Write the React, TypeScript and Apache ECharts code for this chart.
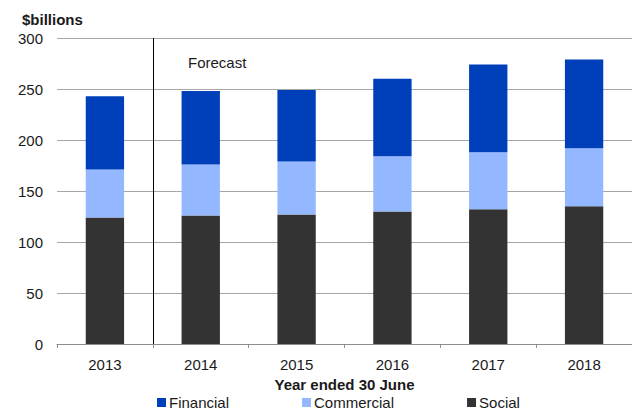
import React, { useEffect, useRef } from "react";
import * as echarts from "echarts";

const years = ["2013", "2014", "2015", "2016", "2017", "2018"];
const social = [124, 126, 127, 130, 132, 135];
const commercial = [47, 50, 52, 54, 56, 57];
const financial = [72, 72, 70, 76, 86, 87];
const yTicks = { min: 0, max: 300, interval: 50 };

const FONT = "'Liberation Sans', Arial, sans-serif";

export default function App() {
  const ref = useRef<HTMLDivElement>(null);
  useEffect(() => {
    document.body.style.margin = "0";
    const chart = echarts.init(ref.current!, null, { renderer: "svg" });
    chart.setOption({
      animation: false,
      textStyle: { fontFamily: FONT },
      grid: { left: 57, top: 38, width: 578, height: 306, containLabel: false },
      xAxis: {
        type: "category",
        data: years,
        boundaryGap: true,
        axisLine: { show: true, lineStyle: { color: "#8c8c8c", width: 1 } },
        axisTick: { show: true, length: 4, lineStyle: { color: "#8c8c8c" } },
        axisLabel: { color: "#1a1a1a", fontSize: 15, margin: 13, fontFamily: FONT },
        splitLine: { show: false },
        name: "Year ended 30 June",
        nameLocation: "middle",
        nameGap: 33,
        nameTextStyle: { fontWeight: "bold", fontSize: 15, color: "#1a1a1a", fontFamily: FONT },
      },
      yAxis: {
        type: "value",
        min: yTicks.min,
        max: yTicks.max,
        interval: yTicks.interval,
        axisLine: { show: false },
        axisTick: { show: false },
        axisLabel: { color: "#1a1a1a", fontSize: 15, margin: 14, fontFamily: FONT },
        splitLine: { lineStyle: { color: "#a6a6a6", width: 1 } },
      },
      legend: {
        data: ["Financial", "Commercial", "Social"],
        left: 157,
        top: 395,
        padding: 0,
        itemWidth: 9,
        itemHeight: 9,
        itemGap: 73,
        icon: "rect",
        textStyle: { fontSize: 15, color: "#1a1a1a", fontFamily: FONT, padding: [0, 0, 0, -2] },
      },
      series: [
        {
          name: "Social",
          type: "bar",
          stack: "total",
          data: social,
          barWidth: "40%",
          itemStyle: { color: "#333333" },
        },
        {
          name: "Commercial",
          type: "bar",
          stack: "total",
          data: commercial,
          itemStyle: { color: "#94b8ff" },
        },
        {
          name: "Financial",
          type: "bar",
          stack: "total",
          data: financial,
          itemStyle: { color: "#003fba" },
        },
      ],
    });
    // Divider between actual and forecast, placed from the axis scales
    const x0 = chart.convertToPixel({ xAxisIndex: 0 }, 0) as number;
    const x1 = chart.convertToPixel({ xAxisIndex: 0 }, 1) as number;
    const xd = Math.round((x0 + x1) / 2) + 0.5;
    const yTop = chart.convertToPixel({ yAxisIndex: 0 }, yTicks.max) as number;
    const yBot = chart.convertToPixel({ yAxisIndex: 0 }, yTicks.min) as number;
    chart.setOption({
      graphic: [
        {
          type: "line",
          shape: { x1: xd, y1: yTop, x2: xd, y2: yBot },
          style: { stroke: "#000000", lineWidth: 1 },
          z: 10,
        },
        {
          type: "text",
          left: 22,
          top: 12,
          style: { text: "$billions", font: `bold 15px ${FONT}`, fill: "#1a1a1a" },
        },
        {
          type: "text",
          left: 188,
          top: 55,
          style: { text: "Forecast", font: `15px ${FONT}`, fill: "#1a1a1a" },
        },
      ],
    });
    return () => chart.dispose();
  }, []);
  return <div ref={ref} style={{ width: 632, height: 412 }} />;
}
